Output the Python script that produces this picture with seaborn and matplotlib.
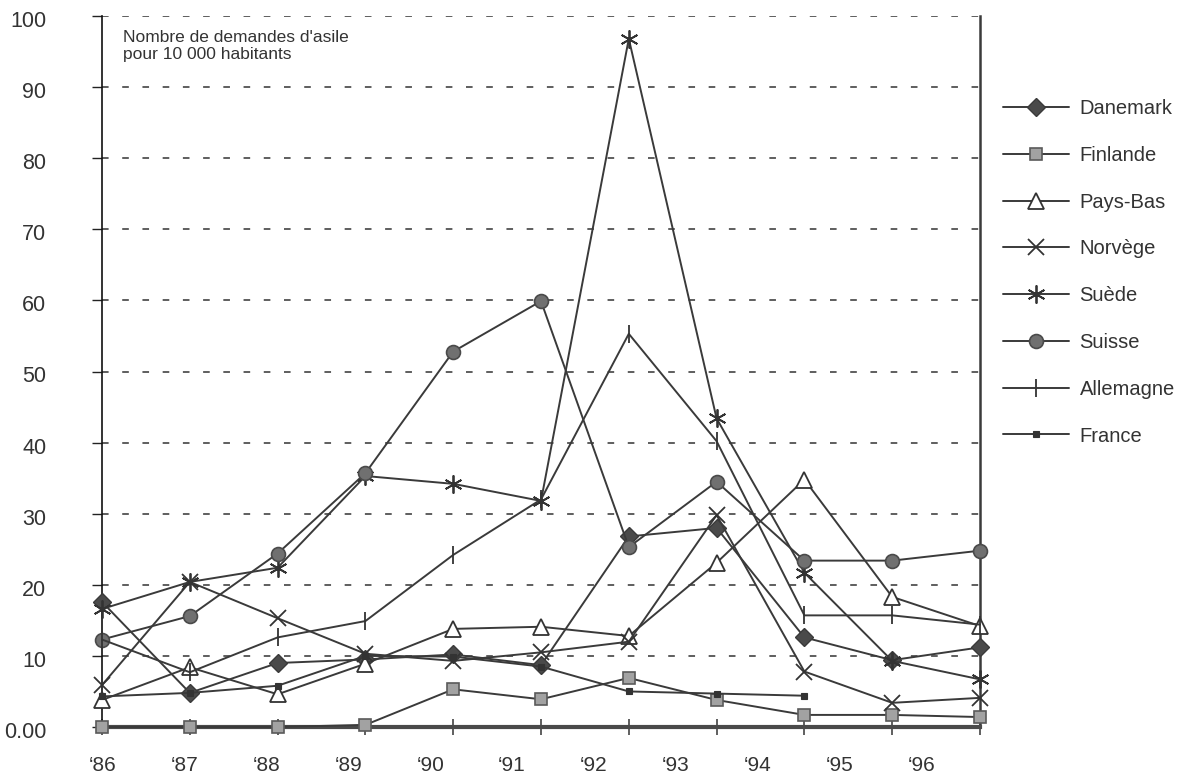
import numpy as np
import pandas as pd
import matplotlib
matplotlib.use("Agg")
import matplotlib.pyplot as plt
from matplotlib.transforms import ScaledTranslation
import seaborn as sns

# Demandes d'asile pour 10 000 habitants, 1986-1996
years = ["‘86", "‘87", "‘88", "‘89", "‘90", "‘91", "‘92", "‘93", "‘94", "‘95", "‘96"]

danemark = [17.6, 4.8, 9.0, 9.5, 10.2, 8.7, 26.8, 28.0, 12.6, 9.4, 11.2]
finlande = [0.0, 0.0, 0.0, 0.3, 5.3, 3.9, 6.9, 3.8, 1.7, 1.7, 1.4]
pays_bas = [3.8, 8.4, 4.6, 8.9, 13.8, 14.1, 12.8, 23.1, 34.8, 18.3, 14.2]
norvege = [5.9, 20.4, 15.3, 10.3, 9.3, 10.5, 12.0, 29.8, 7.8, 3.4, 4.1]
suede = [16.6, 20.4, 22.4, 35.3, 34.2, 31.8, 96.8, 43.4, 21.7, 9.3, 6.7]
suisse = [12.3, 15.6, 24.4, 35.7, 52.8, 59.9, 25.3, 34.5, 23.4, 23.4, 24.8]
allemagne = [12.3, 7.7, 12.6, 14.9, 24.2, 32.0, 55.3, 40.2, 15.7, 15.7, 14.4]
france = [4.3, 4.8, 5.8, 10.0, 9.9, 8.5, 5.0, 4.7, 4.4, np.nan, np.nan]

y_ticks = [0, 10, 20, 30, 40, 50, 60, 70, 80, 90, 100]

LINE = "#3a3a3a"
TEXT = "#333333"

sns.set_theme(style="white")
plt.rcParams["font.family"] = ["Liberation Sans", "DejaVu Sans"]

fig = plt.figure(figsize=(11.98, 7.83), dpi=100)
ax = fig.add_axes([102 / 1198, 56 / 783, 878 / 1198, 711 / 783])

idx = np.arange(len(years))

# marker style for each country
styles = [
    ("Danemark", danemark, dict(marker="D", markersize=9, markerfacecolor="#4a4a4a",
                                markeredgecolor="#3a3a3a", markeredgewidth=1.0)),
    ("Finlande", finlande, dict(marker="s", markersize=9, markerfacecolor="#a2a2a2",
                                markeredgecolor="#5a5a5a", markeredgewidth=1.2)),
    ("Pays-Bas", pays_bas, dict(marker="^", markersize=12, markerfacecolor="white",
                                markeredgecolor="#333333", markeredgewidth=1.3)),
    ("Norvège", norvege, dict(marker="x", markersize=11, markerfacecolor="none",
                              markeredgecolor="#333333", markeredgewidth=1.3)),
    ("Suède", suede, dict(marker=(6, 2, 0), markersize=13, markerfacecolor="none",
                          markeredgecolor="#333333", markeredgewidth=1.3)),
    ("Suisse", suisse, dict(marker="o", markersize=10, markerfacecolor="#707070",
                            markeredgecolor="#4a4a4a", markeredgewidth=1.2)),
    ("Allemagne", allemagne, dict(marker="|", markersize=13, markerfacecolor="none",
                                  markeredgecolor="#333333", markeredgewidth=1.3)),
    ("France", france, dict(marker="s", markersize=4, markerfacecolor="#333333",
                            markeredgecolor="#333333", markeredgewidth=0.8)),
]

for name, values, mk in styles:
    df = pd.DataFrame({"x": idx, "y": values}).dropna()
    sns.lineplot(data=df, x="x", y="y", ax=ax, color=LINE, linewidth=1.4,
                 label=name, errorbar=None, clip_on=False, zorder=3, **mk)

handles, labels = ax.get_legend_handles_labels()
if ax.get_legend() is not None:
    ax.get_legend().remove()

ax.set_xlim(0, len(years) - 1)
ax.set_ylim(0, 100)
ax.set_xlabel("")
ax.set_ylabel("")

# y axis
ax.set_yticks(y_ticks)
ax.set_yticklabels(["0.00" if v == 0 else str(v) for v in y_ticks])
ax.tick_params(axis="y", which="major", direction="out", length=7, width=1.0,
               color="#222222", left=True, pad=33, labelsize=15.5, labelcolor=TEXT)
shift = ScaledTranslation(0, -3 / 100, fig.dpi_scale_trans)
for lab in ax.get_yticklabels():
    lab.set_transform(lab.get_transform() + shift)
ax.yaxis.grid(True, linestyle=(0, (3.4, 7.0)), color="#5e5e5e", linewidth=1.4)
ax.xaxis.grid(False)
ax.set_axisbelow(True)

# x axis: year labels spread along the bottom, cross ticks at each year
label_pos = idx * 0.932 + 0.01
ax.set_xticks(label_pos)
ax.set_xticklabels(years)
ax.set_xticks(idx, minor=True)
ax.tick_params(axis="x", which="major", length=0, pad=21, labelsize=15,
               labelcolor=TEXT, bottom=True)
ax.tick_params(axis="x", which="minor", direction="inout", length=11, width=1.2,
               color="#444444", bottom=True)

ax.spines["top"].set_visible(False)
ax.spines["left"].set_color("#111111")
ax.spines["left"].set_linewidth(1.2)
ax.spines["right"].set_color("#3a3a3a")
ax.spines["right"].set_linewidth(1.8)
ax.spines["bottom"].set_color("#4a4a4a")
ax.spines["bottom"].set_linewidth(3.0)
ax.spines["bottom"].set_zorder(2.5)

fig.text(123 / 1198, 1 - 30 / 783, "Nombre de demandes d'asile\npour 10 000 habitants",
         ha="left", va="top", fontsize=12.5, color=TEXT, linespacing=1.15)

fig.legend(handles, labels, loc="upper left",
           bbox_to_anchor=(1003 / 1198, 1 - 99 / 783), frameon=False,
           handlelength=3.3, handletextpad=0.5, labelspacing=1.38,
           fontsize=14.5, borderpad=0, borderaxespad=0, labelcolor=TEXT)

fig.savefig("out.png", dpi=100)
